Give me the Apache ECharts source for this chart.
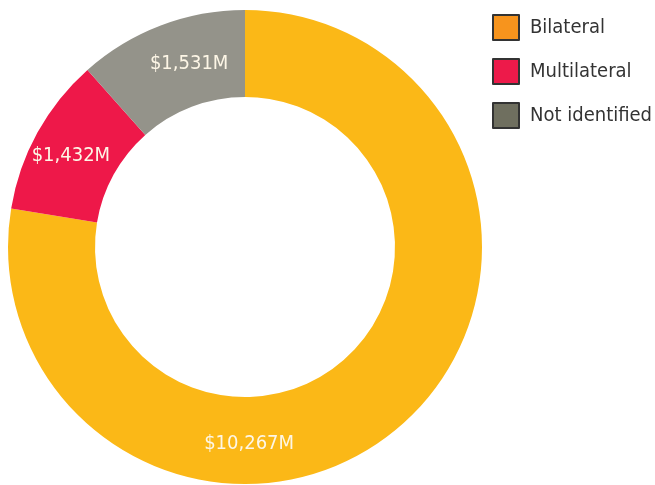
<!DOCTYPE html>
<html style="height: 100%">
<head>
<meta charset="utf-8">
<script src="https://cdn.jsdelivr.net/npm/echarts@6/dist/echarts.min.js"></script>
</head>
<body style="height: 100%; margin: 0; background: #fff">
<div id="container" style="width: 655px; height: 485px"></div>
<script type="text/javascript">

// funding by channel, millions of dollars
var categories = ['Bilateral', 'Multilateral', 'Not identified'];
var values = [10267, 1432, 1531];
var sliceColors = ['#FBB817', '#EE1849', '#94938A'];
var legendColors = ['#F7941D', '#ED1A4A', '#6F6F5F'];
// nudges so labels sit where the original put them
var labelShift = [[-123, 47], [-2, 4], [14, 0]];

var fontName = '"DejaVu Sans Condensed", "Liberation Sans", sans-serif';

var seriesData = [];
var legendData = [];
for (var i = 0; i < categories.length; i++) {
    seriesData.push({
        name: categories[i],
        value: values[i],
        itemStyle: {color: sliceColors[i]}
    });
    legendData.push({
        name: categories[i],
        itemStyle: {color: legendColors[i], borderColor: '#333', borderWidth: 2}
    });
}

var myChart = echarts.init(document.getElementById('container'));

var option = {
    animation: false,
    legend: {
        orient: 'vertical',
        left: 492,
        top: 14,
        padding: 0,
        itemWidth: 26,
        itemHeight: 25,
        itemGap: 17,
        icon: 'rect',
        data: legendData,
        textStyle: {
            fontFamily: fontName,
            fontSize: 20,
            lineHeight: 25,
            color: '#333',
            padding: [0, 0, 0, 6]
        }
    },
    series: [
        {
            type: 'pie',
            center: [245, 247],
            radius: [150, 237],
            startAngle: 90,
            clockwise: true,
            avoidLabelOverlap: false,
            data: seriesData,
            itemStyle: {borderWidth: 0},
            emphasis: {disabled: true},
            label: {
                show: true,
                position: 'inside',
                fontFamily: fontName,
                fontSize: 20,
                color: '#FDF6E6',
                formatter: function (p) {
                    return '$' + p.value.toLocaleString('en-US') + 'M';
                }
            },
            labelLine: {show: false},
            labelLayout: function (params) {
                var s = labelShift[params.dataIndex];
                return {dx: s[0], dy: s[1]};
            }
        }
    ]
};

myChart.setOption(option);
</script>
</body>
</html>
